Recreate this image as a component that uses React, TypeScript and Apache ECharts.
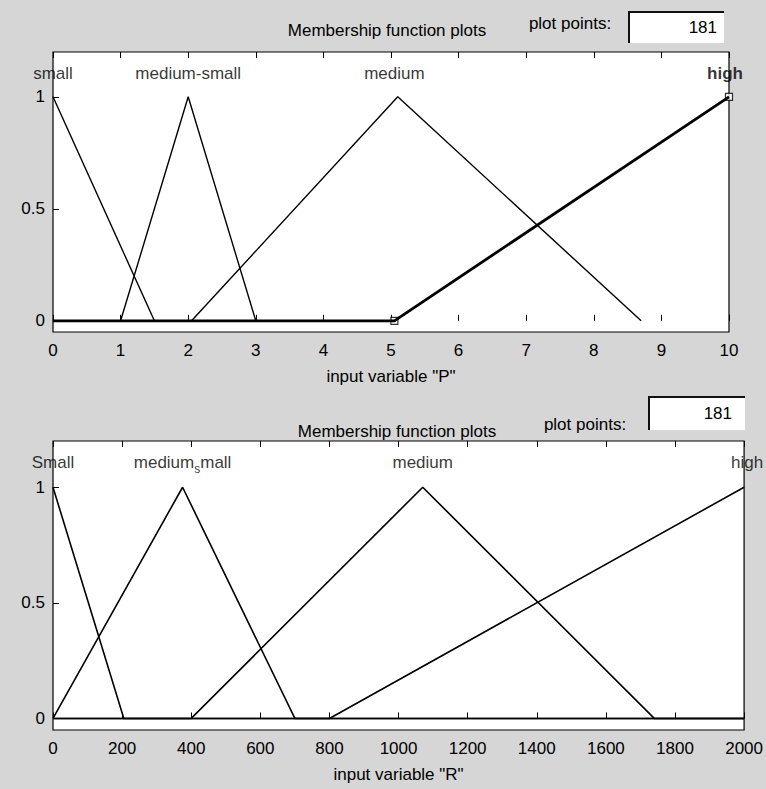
import React, { useEffect, useRef } from "react";
import * as echarts from "echarts";

// ---- Data: input variable "P" (top plot) ----
const pTicks = [0, 1, 2, 3, 4, 5, 6, 7, 8, 9, 10];
const pSmall = [[0, 1], [1.5, 0]];
const pMediumSmall = [[1, 0], [2, 1], [3, 0]];
const pMedium = [[2.05, 0], [5.1, 1], [8.7, 0]];
const pHigh = [[0, 0], [5.05, 0], [10, 1]];
const pHandles = [[5.05, 0], [10, 1]];
const pNames = ["small", "medium-small", "medium", "high"];
const pNameX = [0, 2, 5.05, 10];

// ---- Data: input variable "R" (bottom plot) ----
const rSmall = [[0, 1], [205, 0], [2000, 0]];
const rMediumSmall = [[0, 0], [375, 1], [700, 0], [2000, 0]];
const rMedium = [[0, 0], [400, 0], [1070, 1], [1740, 0], [2000, 0]];
const rHigh = [[0, 0], [800, 0], [2000, 1]];
const rNames = ["Small", "medium_small", "medium", "high"];
const rNameX = [0, 375, 1070, 2000];

const yTickValues = [0, 0.5, 1];
const labelY = 1.105;
const plotPoints = "181";

const FONT = "'Liberation Sans', Arial, Helvetica, sans-serif";
const FS = 17;

function xAxes(grid: number, min: number, max: number, interval: number, name: string) {
  return [
    {
      type: "value",
      gridIndex: grid,
      min,
      max,
      interval,
      position: "bottom",
      axisLine: { show: false },
      axisTick: { show: true, inside: true, length: 6, lineStyle: { color: "#000", width: 1 } },
      axisLabel: {
        show: true,
        margin: 10,
        color: "#000",
        fontSize: FS,
        fontFamily: FONT,
        formatter: (v: number) => String(v),
      },
      splitLine: { show: false },
      name,
      nameLocation: "middle",
      nameGap: 36,
      nameTextStyle: { color: "#000", fontSize: FS, fontFamily: FONT },
    },
    {
      type: "value",
      gridIndex: grid,
      min,
      max,
      interval,
      position: "top",
      axisLine: { show: false },
      axisTick: { show: true, inside: true, length: 6, lineStyle: { color: "#000", width: 1 } },
      axisLabel: { show: false },
      splitLine: { show: false },
    },
  ];
}

function yAxis(grid: number) {
  return {
    type: "value",
    gridIndex: grid,
    min: -0.05,
    max: 1.2,
    axisLine: { show: false },
    axisTick: {
      show: true,
      inside: true,
      length: 6,
      customValues: yTickValues,
      lineStyle: { color: "#000", width: 1 },
    },
    axisLabel: {
      show: true,
      margin: 8,
      color: "#000",
      fontSize: FS,
      fontFamily: FONT,
      customValues: yTickValues,
      formatter: (v: number) => String(v),
    },
    splitLine: { show: false },
  };
}

function mfLine(data: number[][], xi: number, yi: number, width = 1.4) {
  return {
    type: "line",
    xAxisIndex: xi,
    yAxisIndex: yi,
    data,
    symbol: "none",
    lineStyle: { color: "#000", width },
    silent: true,
  };
}

export default function App() {
  const ref = useRef<HTMLDivElement>(null);
  useEffect(() => {
    if (!ref.current) return;
    const chart = echarts.init(ref.current, undefined, { renderer: "svg" });

    const pLabelData = pNames.map((n, i) => ({
      value: [pNameX[i], labelY],
      name: n,
      label: n === "high" ? { fontWeight: "bold", offset: [-4, 0] } : {},
    }));
    const rLabelData = rNames.map((n, i) => ({
      value: [rNameX[i], labelY],
      name: n,
      label: n === "high" ? { offset: [3, 0] } : {},
    }));

    const labelBase = {
      show: true,
      position: "inside",
      color: "#000",
      fontSize: FS,
      fontFamily: FONT,
      textBorderWidth: 0,
      textBorderColor: "transparent",
      textShadowBlur: 0,
    };

    const option = {
      animation: false,
      backgroundColor: "#d6d6d6",
      grid: [
        { left: 53, top: 52, width: 676, height: 280, show: true, backgroundColor: "#ffffff", borderColor: "#000", borderWidth: 1.2 },
        { left: 53, top: 441, width: 693, height: 289, show: true, backgroundColor: "#ffffff", borderColor: "#000", borderWidth: 1.2 },
      ],
      xAxis: [
        ...xAxes(0, pTicks[0], pTicks[pTicks.length - 1], 1, 'input variable "P"'),
        ...xAxes(1, 0, 2000, 200, 'input variable "R"'),
      ],
      yAxis: [yAxis(0), yAxis(1)],
      series: [
        mfLine(pSmall, 0, 0),
        mfLine(pMediumSmall, 0, 0),
        mfLine(pMedium, 0, 0),
        mfLine(pHigh, 0, 0, 2.8),
        {
          type: "scatter",
          xAxisIndex: 0,
          yAxisIndex: 0,
          data: pHandles,
          symbol: "rect",
          symbolSize: 7,
          itemStyle: { color: "#fff", borderColor: "#000", borderWidth: 1.2 },
          silent: true,
        },
        {
          type: "scatter",
          xAxisIndex: 0,
          yAxisIndex: 0,
          data: pLabelData,
          symbolSize: 0,
          itemStyle: { color: "#000" },
          label: { ...labelBase, formatter: (p: any) => p.name },
          silent: true,
        },
        mfLine(rSmall, 2, 1, 1.6),
        mfLine(rMediumSmall, 2, 1, 1.6),
        mfLine(rMedium, 2, 1, 1.6),
        mfLine(rHigh, 2, 1, 1.6),
        {
          type: "scatter",
          xAxisIndex: 2,
          yAxisIndex: 1,
          data: rLabelData,
          symbolSize: 0,
          itemStyle: { color: "#000" },
          label: {
            ...labelBase,
            formatter: (p: any) =>
              p.name === "medium_small" ? "{a|medium}{s|s}{a|mall}" : p.name,
            rich: {
              a: { fontSize: FS, fontFamily: FONT, color: "#000", textBorderWidth: 0 },
              s: { fontSize: 12, fontFamily: FONT, color: "#000", textBorderWidth: 0, padding: [12, 0, 0, 0] },
            },
          },
          silent: true,
        },
      ],
      graphic: [
        // top header
        { type: "text", x: 387, y: 30, style: { text: "Membership function plots", fill: "#000", font: `${FS}px ${FONT}`, align: "center", verticalAlign: "middle" } },
        { type: "text", x: 570, y: 23, style: { text: "plot points:", fill: "#000", font: `${FS}px ${FONT}`, align: "center", verticalAlign: "middle" } },
        { type: "rect", shape: { x: 629, y: 12, width: 95, height: 31 }, style: { fill: "#ffffff", stroke: "none" } },
        { type: "polyline", shape: { points: [[629, 43], [629, 12], [724, 12]] }, style: { stroke: "#111", lineWidth: 2, fill: "none" } },
        { type: "text", x: 717, y: 27, style: { text: plotPoints, fill: "#000", font: `${FS}px ${FONT}`, align: "right", verticalAlign: "middle" } },
        // bottom header
        { type: "text", x: 397, y: 431, style: { text: "Membership function plots", fill: "#000", font: `${FS}px ${FONT}`, align: "center", verticalAlign: "middle" } },
        { type: "text", x: 585, y: 424, style: { text: "plot points:", fill: "#000", font: `${FS}px ${FONT}`, align: "center", verticalAlign: "middle" } },
        { type: "rect", shape: { x: 649, y: 397, width: 96, height: 33 }, style: { fill: "#ffffff", stroke: "none" } },
        { type: "polyline", shape: { points: [[649, 430], [649, 397], [745, 397]] }, style: { stroke: "#111", lineWidth: 2, fill: "none" } },
        { type: "text", x: 732, y: 413, style: { text: plotPoints, fill: "#000", font: `${FS}px ${FONT}`, align: "right", verticalAlign: "middle" } },
      ],
    };
    chart.setOption(option as any);
    return () => chart.dispose();
  }, []);
  return (
    <div
      ref={ref}
      style={{ position: "absolute", left: 0, top: 0, width: 766, height: 789 }}
    />
  );
}
